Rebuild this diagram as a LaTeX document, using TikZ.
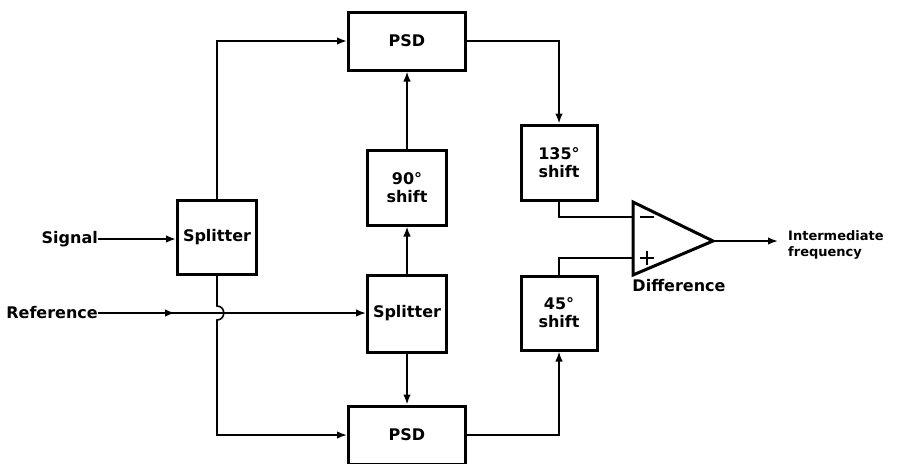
\documentclass[tikz,border=0pt]{standalone}
\usepackage{fontspec}
\setmainfont{DejaVu Sans}
\usetikzlibrary{arrows.meta}
\tikzset{
  blk/.style={draw, line width=3pt, inner sep=0pt, align=center, font=\fontsize{16}{18}\selectfont\bfseries},
  conn/.style={line width=1.6pt},
  arr/.style={conn, -{Latex[length=10pt,width=7.5pt]}},
  lbl/.style={inner sep=0pt, font=\fontsize{16}{18}\selectfont\bfseries},
}
\begin{document}
\begin{tikzpicture}[x=1pt,y=-1pt]
\useasboundingbox (0,0) rectangle (907,463);
% boxes
\node[blk, minimum width=117pt, minimum height=58pt] (psdT) at (407,41) {PSD};
\node[blk, minimum width=117pt, minimum height=58pt] (psdB) at (407,435) {PSD};
\node[blk, minimum width=79pt, minimum height=74pt] (splL) at (217,237) {Splitter};
\node[blk, minimum width=79pt, minimum height=77pt] (splM) at (407,313.5) {Splitter};
\node[blk, minimum width=79pt, minimum height=75pt] (sh90) at (407,187.5) {90°\\shift};
\node[blk, minimum width=76pt, minimum height=75pt] (sh135) at (559,162.5) {135°\\shift};
\node[blk, minimum width=76pt, minimum height=74pt] (sh45) at (559,313) {45°\\shift};
% labels
\node[lbl, anchor=east] (sig) at (98,239) {Signal};
\node[lbl, anchor=east] (ref) at (98,313) {Reference};
\node[lbl] (diff) at (679,286) {Difference};
\node[lbl, anchor=west, align=left, font=\fontsize{13}{16}\selectfont\bfseries] (ifq) at (788,245) {Intermediate\\frequency};
% amplifier
\coordinate (ampTL) at (633,202);
\coordinate (ampBL) at (633,275);
\coordinate (ampTip) at (713,241);
\coordinate (inM) at (633,217);
\coordinate (inP) at (633,258);
\draw[line width=3pt, line join=miter] (ampTL) -- (ampTip) -- (ampBL) -- cycle;
\draw[line width=1.8pt] (640,217) -- (654,217);
\draw[line width=1.8pt] (640,258) -- (654,258) (647,251) -- (647,265);
% connectors
\draw[arr] (sig.east) -- (sig.east -| splL.west);
\coordinate (refmid) at (175,313);
\draw[arr] (ref.east) -- (splM.west |- ref.east);
\draw[arr] (ref.east) -- (refmid);
\draw[arr] (splL.north) |- (psdT.west);
\coordinate (hopA) at (217,306);
\coordinate (hopB) at (217,320);
\draw[arr] (splL.south) -- (hopA) .. controls (226,306) and (226,320) .. (hopB) |- (psdB.west);
\draw[arr] (splM.north) -- (sh90.south);
\draw[arr] (sh90.north) -- (psdT.south);
\draw[arr] (splM.south) -- (psdB.north);
\draw[arr] (psdT.east) -| (sh135.north);
\draw[arr] (psdB.east) -| (sh45.south);
\draw[conn] (sh135.south) |- (inM);
\draw[conn] (sh45.north) |- (inP);
\coordinate (outEnd) at (778,241);
\draw[arr] (ampTip) -- (outEnd);
\end{tikzpicture}
\end{document}
